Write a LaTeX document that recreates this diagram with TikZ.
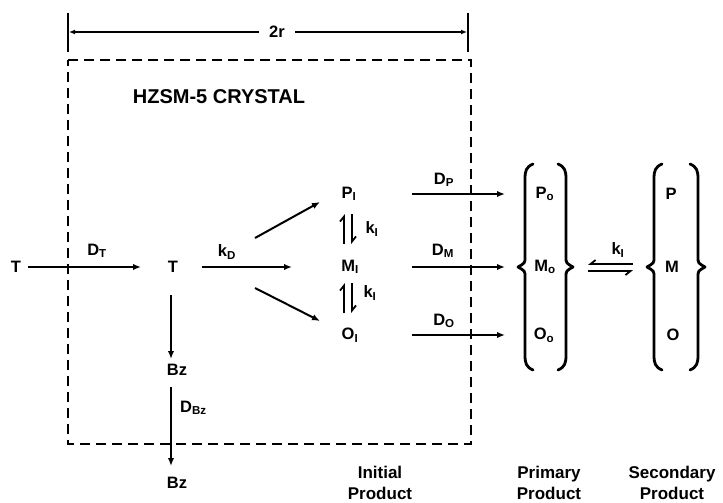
\documentclass[tikz,border=0pt]{standalone}
\usepackage{fontspec}
\setmainfont{Liberation Sans}
\usetikzlibrary{arrows.meta,calc}
\begin{document}
\begin{tikzpicture}[x=1pt,y=-1pt,
  lbl/.style={font=\bfseries\fontsize{16.5}{18}\selectfont, inner sep=1pt},
  captxt/.style={font=\bfseries\fontsize{17}{21}\selectfont, inner sep=1pt, align=center},
  arr/.style={line width=2pt, -{Latex[length=8pt,width=6.5pt]}},
  harpu/.style={line width=1.8pt, -{Straight Barb[harpoon,length=5pt,width=8pt]}},
  harps/.style={line width=1.8pt, -{Straight Barb[harpoon,swap,length=5pt,width=8pt]}},
  boxline/.style={line width=2.3pt, dash pattern=on 10pt off 6pt},
  brace/.style={line width=2.8pt, line cap=round, line join=round},
  bracel/.pic={\draw[brace] (8,-103) .. controls (1,-100) and (0,-96) .. (0,-88) -- (0,-10) .. controls (0,-4) .. (-7,0) .. controls (0,4) .. (0,10) -- (0,88) .. controls (0,96) and (1,100) .. (8,103);},
]
\useasboundingbox (0,0) rectangle (723,503);

% crystal boundary and dimension
\draw[boxline] (68,60) -- (471,60) -- (471,444) -- (68,444) -- cycle;
\draw[line width=1.6pt] (68,13) -- (68,52);
\draw[line width=1.6pt] (468,13) -- (468,52);
\draw[line width=1.6pt, {Latex[length=6pt,width=5pt]}-{Latex[length=6pt,width=5pt]}] (69,32) -- (467,32);
\node[lbl, fill=white, inner xsep=10pt, inner ysep=2pt] (dim) at (277,32) {2r};
\node[font=\bfseries\fontsize{20}{24}\selectfont, inner sep=1pt] (title) at (219,97) {HZSM-5 CRYSTAL};

% species
\node[lbl] (T0) at (16,267) {T};
\node[lbl] (T1) at (173,267) {T};
\node[lbl] (P1) at (349,194) {P\textsubscript{I}};
\node[lbl] (M1) at (350,267) {M\textsubscript{I}};
\node[lbl] (O1) at (350,335) {O\textsubscript{I}};
\node[lbl] (Bz1) at (177,370) {Bz};
\node[lbl] (Bz2) at (177,483) {Bz};
\node[lbl] (P0) at (545,194) {P\textsubscript{o}};
\node[lbl] (M0) at (545,267) {M\textsubscript{o}};
\node[lbl] (O0) at (544,335) {O\textsubscript{o}};
\node[lbl] (P) at (671,194) {P};
\node[lbl] (M) at (672,267) {M};
\node[lbl] (O) at (673,335) {O};

% braces
\pic at (525,267) {bracel};
\pic[xscale=-1] at (566,267) {bracel};
\pic at (654,267) {bracel};
\pic[xscale=-1] at (698,267) {bracel};

% arrows
\draw[arr] ($(T0)+(12,0)$) -- ($(T1)+(-32,0)$);
\node[lbl] (lDT) at (97,251) {D\textsubscript{T}};
\draw[arr] ($(T1)+(29,0)$) -- ($(M1)+(-58,0)$);
\node[lbl] (lkD) at (227,252) {k\textsubscript{D}};
\draw[arr] ($(T1)+(82,-29)$) -- ($(P1)+(-29,8)$);
\draw[arr] ($(T1)+(82,21)$) -- ($(O1)+(-30,-14)$);
\draw[arr] ($(T1)+(-2,28)$) -- ($(Bz1)+(-6,-11)$);
\draw[arr] ($(Bz1)+(-6,17)$) -- ($(Bz2)+(-6,-17)$);
\node[lbl, anchor=west] (lDBz) at (179,408) {D\textsubscript{Bz}};

\draw[arr] ($(P1)+(63,0)$) -- ($(P0)+(-40,0)$);
\draw[arr] ($(M1)+(62,0)$) -- ($(M0)+(-40,0)$);
\draw[arr] ($(O1)+(62,0)$) -- ($(O0)+(-39,0)$);
\node[lbl] (lDP) at (444,180) {D\textsubscript{P}};
\node[lbl] (lDM) at (443,251) {D\textsubscript{M}};
\node[lbl] (lDO) at (444,321) {D\textsubscript{O}};

% isomerization equilibria
\draw[harpu] ($(P1)+(-5,50)$) -- ($(P1)+(-5,20)$);
\draw[harpu] ($(P1)+(3,20)$) -- ($(P1)+(3,50)$);
\node[lbl] (lk1) at (372,229) {k\textsubscript{I}};
\draw[harpu] ($(M1)+(-6,46)$) -- ($(M1)+(-6,16)$);
\draw[harpu] ($(M1)+(2,16)$) -- ($(M1)+(2,46)$);
\node[lbl] (lk2) at (370,293) {k\textsubscript{I}};

\draw[harps] ($(M0)+(88,-3)$) -- ($(M0)+(43,-3)$);
\draw[harps] ($(M0)+(43,4)$) -- ($(M0)+(88,4)$);
\node[lbl] (lk3) at (618,250) {k\textsubscript{I}};

% captions
\node[captxt] (cI) at (380,483) {Initial\\Product};
\node[captxt] (cP) at (549,483) {Primary\\Product};
\node[captxt] (cS) at (672,483) {Secondary\\Product};
\end{tikzpicture}
\end{document}
